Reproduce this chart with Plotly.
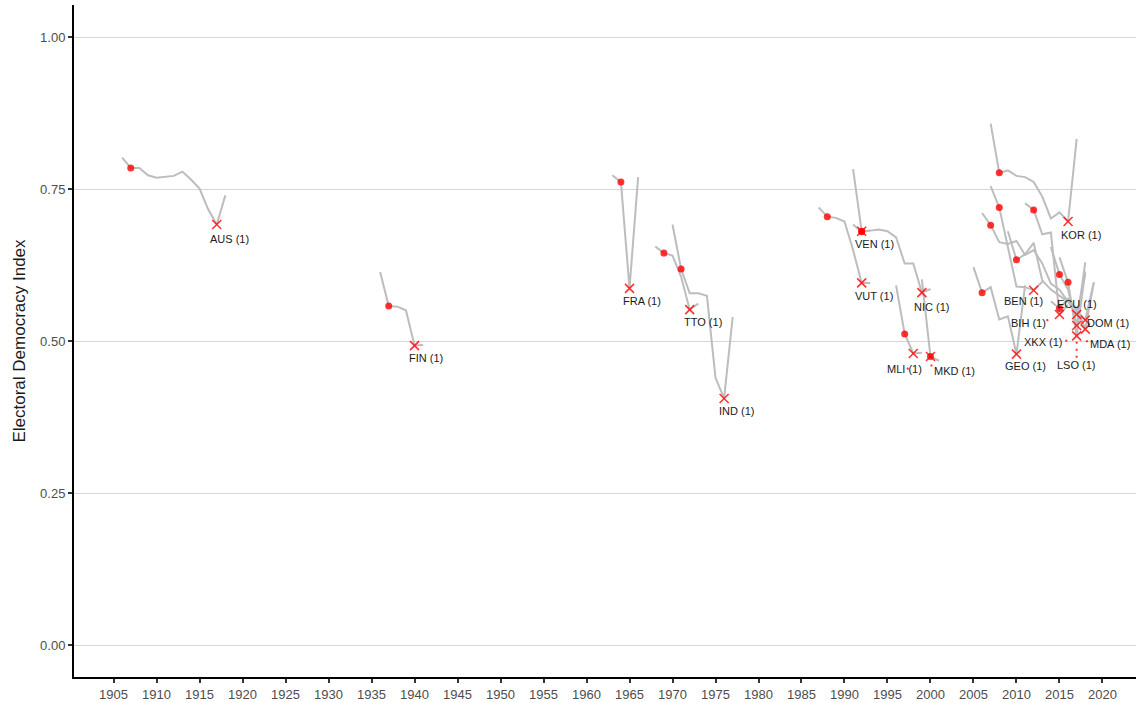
import plotly.graph_objects as go

# ---- Electoral democracy index trajectories around each episode ----
# Each country: yearly index values, the year the episode starts (dot)
# and the year it ends (cross).
AUS_YEARS = [1906, 1907, 1908, 1909, 1910, 1911, 1912, 1913, 1914, 1915, 1916, 1917, 1918]
AUS_VALUES = [0.802, 0.785, 0.785, 0.773, 0.769, 0.770, 0.772, 0.779, 0.766, 0.751, 0.717, 0.692, 0.740]

FIN_YEARS = [1936, 1937, 1938, 1939, 1940, 1941]
FIN_VALUES = [0.614, 0.558, 0.557, 0.551, 0.493, 0.494]

FRA_YEARS = [1963, 1964, 1965, 1966]
FRA_VALUES = [0.773, 0.762, 0.587, 0.770]

TTO_YEARS = [1968, 1969, 1970, 1971, 1972, 1973]
TTO_VALUES = [0.656, 0.645, 0.641, 0.606, 0.552, 0.562]

IND_YEARS = [1970, 1971, 1972, 1973, 1974, 1975, 1976, 1977]
IND_VALUES = [0.692, 0.619, 0.579, 0.579, 0.575, 0.440, 0.406, 0.540]

VUT_YEARS = [1987, 1988, 1989, 1990, 1991, 1992, 1993]
VUT_VALUES = [0.720, 0.705, 0.703, 0.697, 0.650, 0.596, 0.596]

VEN_YEARS = [1991, 1992, 1993]
VEN_VALUES = [0.783, 0.681, 0.682]

NIC_YEARS = [1991, 1992, 1993, 1994, 1995, 1996, 1997, 1998, 1999, 2000]
NIC_VALUES = [0.692, 0.680, 0.682, 0.684, 0.681, 0.671, 0.628, 0.628, 0.580, 0.586]

MLI_YEARS = [1996, 1997, 1998, 1999]
MLI_VALUES = [0.592, 0.512, 0.480, 0.481]

MKD_YEARS = [1999, 2000, 2001]
MKD_VALUES = [0.602, 0.475, 0.468]

GEO_YEARS = [2005, 2006, 2007, 2008, 2009, 2010, 2011]
GEO_VALUES = [0.622, 0.580, 0.589, 0.536, 0.541, 0.479, 0.592]

BEN_YEARS = [2007, 2008, 2009, 2010, 2011, 2012, 2013]
BEN_VALUES = [0.755, 0.720, 0.655, 0.590, 0.589, 0.584, 0.598]

ECU_YEARS = [2006, 2007, 2008, 2009, 2010, 2011, 2012, 2013, 2014, 2015, 2016, 2017, 2018]
ECU_VALUES = [0.711, 0.691, 0.663, 0.660, 0.665, 0.642, 0.650, 0.628, 0.595, 0.585, 0.565, 0.544, 0.610]

KOR_YEARS = [2007, 2008, 2009, 2010, 2011, 2012, 2013, 2014, 2015, 2016, 2017]
KOR_VALUES = [0.858, 0.777, 0.781, 0.772, 0.770, 0.762, 0.738, 0.702, 0.712, 0.697, 0.833]

MDA_YEARS = [2009, 2010, 2011, 2012, 2013, 2014, 2015, 2016, 2017, 2018, 2019]
MDA_VALUES = [0.681, 0.634, 0.643, 0.662, 0.600, 0.585, 0.575, 0.565, 0.555, 0.520, 0.597]

BIH_YEARS = [2011, 2012, 2013, 2014, 2015, 2016]
BIH_VALUES = [0.727, 0.716, 0.676, 0.679, 0.544, 0.560]

XKX_YEARS = [2014, 2015, 2016, 2017, 2018]
XKX_VALUES = [0.655, 0.610, 0.585, 0.526, 0.630]

LSO_YEARS = [2015, 2016, 2017, 2018]
LSO_VALUES = [0.638, 0.597, 0.509, 0.615]

DOM_YEARS = [2014, 2015, 2016, 2017, 2018, 2019]
DOM_VALUES = [0.566, 0.554, 0.570, 0.550, 0.535, 0.597]

COUNTRIES = ["AUS", "FIN", "FRA", "TTO", "IND", "VUT", "VEN", "NIC", "MLI", "MKD",
             "GEO", "BEN", "ECU", "KOR", "MDA", "BIH", "XKX", "LSO", "DOM"]
SERIES = {
    "AUS": (AUS_YEARS, AUS_VALUES), "FIN": (FIN_YEARS, FIN_VALUES),
    "FRA": (FRA_YEARS, FRA_VALUES), "TTO": (TTO_YEARS, TTO_VALUES),
    "IND": (IND_YEARS, IND_VALUES), "VUT": (VUT_YEARS, VUT_VALUES),
    "VEN": (VEN_YEARS, VEN_VALUES), "NIC": (NIC_YEARS, NIC_VALUES),
    "MLI": (MLI_YEARS, MLI_VALUES), "MKD": (MKD_YEARS, MKD_VALUES),
    "GEO": (GEO_YEARS, GEO_VALUES), "BEN": (BEN_YEARS, BEN_VALUES),
    "ECU": (ECU_YEARS, ECU_VALUES), "KOR": (KOR_YEARS, KOR_VALUES),
    "MDA": (MDA_YEARS, MDA_VALUES), "BIH": (BIH_YEARS, BIH_VALUES),
    "XKX": (XKX_YEARS, XKX_VALUES), "LSO": (LSO_YEARS, LSO_VALUES),
    "DOM": (DOM_YEARS, DOM_VALUES),
}
EPISODE_START = {"AUS": 1907, "FIN": 1937, "FRA": 1964, "TTO": 1969, "IND": 1971,
                 "VUT": 1988, "VEN": 1992, "NIC": 1992, "MLI": 1997, "MKD": 2000,
                 "GEO": 2006, "BEN": 2008, "ECU": 2007, "KOR": 2008, "MDA": 2010,
                 "BIH": 2012, "XKX": 2015, "LSO": 2016, "DOM": 2015}
EPISODE_END = {"AUS": 1917, "FIN": 1940, "FRA": 1965, "TTO": 1972, "IND": 1976,
               "VUT": 1992, "VEN": 1992, "NIC": 1999, "MLI": 1998, "MKD": 2000,
               "GEO": 2010, "BEN": 2012, "ECU": 2017, "KOR": 2016, "MDA": 2018,
               "BIH": 2015, "XKX": 2017, "LSO": 2017, "DOM": 2018}
EPISODE_COUNT = {c: 1 for c in COUNTRIES}

YEAR_TICKS = [1905, 1910, 1915, 1920, 1925, 1930, 1935, 1940, 1945, 1950, 1955, 1960,
              1965, 1970, 1975, 1980, 1985, 1990, 1995, 2000, 2005, 2010, 2015, 2020]
INDEX_TICKS = [0.0, 0.25, 0.5, 0.75, 1.0]
INDEX_TICK_TEXT = ["0.00", "0.25", "0.50", "0.75", "1.00"]

# label offsets (pixels, x right / y down) relative to the end-of-episode cross
LABEL_OFFSET = {"AUS": (13, 14), "FIN": (11, 12), "FRA": (12, 13), "TTO": (13, 12),
                "IND": (12, 13), "VUT": (12, 13), "VEN": (13, 13), "NIC": (10, 14),
                "MLI": (-9, 16), "MKD": (24, 14), "GEO": (9, 12), "BEN": (-10, 11),
                "ECU": (0, -11), "KOR": (13, 13), "MDA": (25, 15), "BIH": (-31, 8),
                "XKX": (-33, 17), "LSO": (0, 29), "DOM": (23, 3)}
# dotted leader segments (pixels, x right / y up) from the cross toward its label
LEADERS = {"LSO": (0, -6, 0, -25), "BIH": (-13, -6, -7, -3), "XKX": (-11, -16, -8, -12),
           "MDA": (2, -13, 1, -10), "MLI": (-6, -16, -5, -14), "MKD": (1, -10, 1, -8)}

LINE_GREY = "#bdbdbd"
RED = "rgba(255,0,0,0.8)"
FONT = "Liberation Sans, Arial, sans-serif"


def value_at(country, year):
    years, values = SERIES[country]
    return values[years.index(year)]


fig = go.Figure()

for c in COUNTRIES:
    years, values = SERIES[c]
    fig.add_trace(go.Scatter(x=years, y=values, mode="lines",
                             line=dict(color=LINE_GREY, width=2),
                             hoverinfo="skip", showlegend=False))

fig.add_trace(go.Scatter(
    x=[EPISODE_START[c] for c in COUNTRIES],
    y=[value_at(c, EPISODE_START[c]) for c in COUNTRIES],
    mode="markers", marker=dict(color=RED, size=7, line=dict(width=0)),
    showlegend=False, name="start"))

fig.add_trace(go.Scatter(
    x=[EPISODE_END[c] for c in COUNTRIES],
    y=[value_at(c, EPISODE_END[c]) for c in COUNTRIES],
    mode="markers", marker=dict(symbol="x-thin", color=RED, size=9,
                                line=dict(color=RED, width=1.6)),
    showlegend=False, name="end"))

for c in COUNTRIES:
    dx, dy = LABEL_OFFSET[c]
    fig.add_annotation(x=EPISODE_END[c], y=value_at(c, EPISODE_END[c]),
                       text=f"{c} ({EPISODE_COUNT[c]})", showarrow=False,
                       xshift=dx, yshift=-dy,
                       font=dict(family=FONT, size=11, color="#1a1a1a"))

for c, (x0, y0, x1, y1) in LEADERS.items():
    fig.add_shape(type="line", xref="x", yref="y",
                  xsizemode="pixel", ysizemode="pixel",
                  xanchor=EPISODE_END[c], yanchor=value_at(c, EPISODE_END[c]),
                  x0=x0, x1=x1, y0=y0, y1=y1,
                  line=dict(color=RED, width=2, dash="2px,5px"))

fig.update_layout(
    width=1136, height=702,
    margin=dict(l=74, r=0, t=5, b=25),
    paper_bgcolor="white", plot_bgcolor="white",
    font=dict(family=FONT),
    xaxis=dict(range=[1900.4, 2023.9], tickvals=YEAR_TICKS,
               showgrid=False, zeroline=False,
               showline=True, linecolor="black", linewidth=2,
               ticks="outside", ticklen=4, tickwidth=2, tickcolor="#333333",
               tickfont=dict(family=FONT, size=13, color="#4d4d4d")),
    yaxis=dict(range=[-0.052, 1.053], tickvals=INDEX_TICKS, ticktext=INDEX_TICK_TEXT,
               showgrid=True, gridcolor="#d6d6d6", gridwidth=1, zeroline=False,
               showline=True, linecolor="black", linewidth=2,
               ticks="outside", ticklen=4, tickwidth=2, tickcolor="#333333",
               tickfont=dict(family=FONT, size=13, color="#4d4d4d"),
               title=dict(text="Electoral Democracy Index", standoff=10,
                          font=dict(family=FONT, size=17, color="#1a1a1a"))),
)

fig.write_html("out.html")
